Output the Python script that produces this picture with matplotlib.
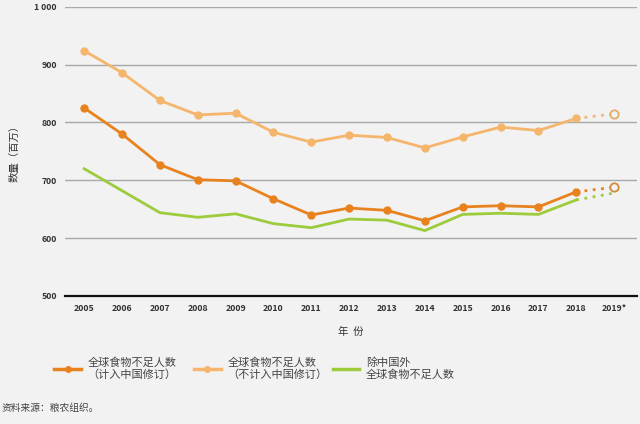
import matplotlib
matplotlib.use('Agg')
import matplotlib.pyplot as plt
from matplotlib.lines import Line2D

plt.rcParams['font.family'] = ['Noto Sans CJK SC', 'DejaVu Sans']

# data
years = ['2005', '2006', '2007', '2008', '2009', '2010', '2011', '2012',
         '2013', '2014', '2015', '2016', '2017', '2018', '2019*']
with_china = [825, 780, 727, 701, 699, 668, 640, 652, 648, 630, 654, 656, 654, 680, 688]
without_china_rev = [924, 886, 838, 813, 816, 783, 766, 778, 774, 756, 775, 792, 786, 807, 815]
excl_china = [720, 682, 644, 636, 642, 625, 618, 633, 631, 613, 641, 643, 641, 666, 678]
yticks = [500, 600, 700, 800, 900, 1000]
ytick_labels = ['500', '600', '700', '800', '900', '1 000']

c_dark = '#e8821e'
c_light = '#f5b56c'
c_green = '#9ccb3c'
bg = '#f2f2f2'

fig = plt.figure(figsize=(6.4, 4.24), dpi=100, facecolor=bg)
ax = fig.add_axes([0.102, 0.302, 0.893, 0.682], facecolor=bg)

x = list(range(len(years)))
n = len(years) - 1  # last point is a projection

# solid parts
ax.plot(x[:n], without_china_rev[:n], color=c_light, lw=2, marker='o', ms=5, zorder=3)
ax.plot(x[:n], with_china[:n], color=c_dark, lw=2, marker='o', ms=5, zorder=4)
ax.plot(x[:n], excl_china[:n], color=c_green, lw=2, zorder=2)

# dotted projection to 2019
ax.plot(x[n - 1:], without_china_rev[n - 1:], color=c_light, lw=2, ls=(0, (1, 2)), zorder=3)
ax.plot(x[n - 1:], with_china[n - 1:], color=c_dark, lw=2, ls=(0, (1, 2)), zorder=4)
ax.plot(x[n - 1:], excl_china[n - 1:], color=c_green, lw=2, ls=(0, (1, 2)), zorder=2)
ax.plot(x[n], without_china_rev[n], marker='o', ms=6, mfc=bg, mec='#e2ac68', mew=1.3, zorder=5)
ax.plot(x[n], with_china[n], marker='o', ms=6, mfc=bg, mec='#d08a3a', mew=1.3, zorder=5)

ax.set_ylim(500, 1000)
ax.set_xlim(-0.5, len(years) - 0.4)
ax.set_yticks(yticks)
ax.set_yticklabels(ytick_labels)
ax.set_xticks(x)
ax.set_xticklabels(years)
ax.tick_params(length=0, labelsize=6.3, pad=6)
for lab in ax.get_xticklabels() + ax.get_yticklabels():
    lab.set_fontweight('bold')
    lab.set_color('#333333')

ax.grid(axis='y', color='#a8a8a8', lw=1)
ax.set_axisbelow(True)
for s in ['top', 'right', 'left']:
    ax.spines[s].set_visible(False)
ax.spines['bottom'].set_color('#111111')
ax.spines['bottom'].set_linewidth(1.6)

ax.set_ylabel('数量（百万）', fontsize=7.5, color='#333333', labelpad=11)
ax.set_xlabel('年  份', fontsize=7.5, color='#333333', labelpad=10)

# legend, one entry per column placed by hand
entries = [
    (Line2D([], [], color=c_dark, lw=2.5, marker='o', ms=4), '全球食物不足人数\n（计入中国修订）', 0.078),
    (Line2D([], [], color=c_light, lw=2.5, marker='o', ms=4), '全球食物不足人数\n（不计入中国修订）', 0.296),
    (Line2D([], [], color=c_green, lw=2.5), '除中国外\n全球食物不足人数', 0.513),
]
for h, lab, xpos in entries:
    fig.legend([h], [lab], loc='center left', bbox_to_anchor=(xpos, 0.13),
               frameon=False, fontsize=8, handlelength=2.4, handletextpad=0.6,
               labelcolor='#444444', borderaxespad=0)

fig.text(0.003, 0.03, '资料来源：粮农组织。', fontsize=7, color='#444444')

fig.savefig('out.png', dpi=100, facecolor=bg)
